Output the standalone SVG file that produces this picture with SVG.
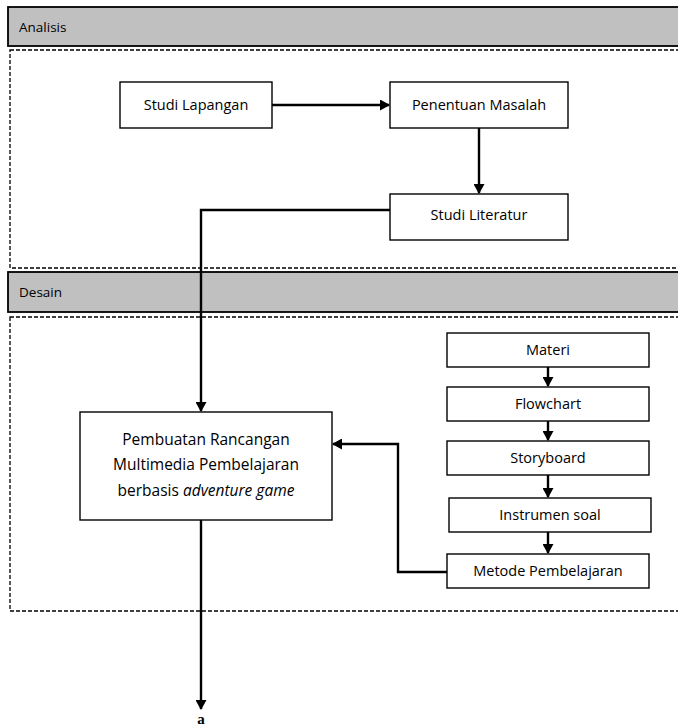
<svg xmlns="http://www.w3.org/2000/svg" width="678" height="728" viewBox="0 0 678 728">
<defs>
<style>
.hdr{fill:#c0c0c0;stroke:#000;stroke-width:1.8}
.dash{fill:none;stroke:#000;stroke-width:1.3;stroke-dasharray:4,2}
.box{fill:#fff;stroke:#000;stroke-width:1.4}
.t{font-family:"Open Sans","Liberation Sans",sans-serif;font-size:14.5px;fill:#000}
.h{font-size:13.5px}
.big{font-size:15.5px}
.c{text-anchor:middle}
.ln{fill:none;stroke:#000;stroke-width:2.4}
</style>
<marker id="ah" markerWidth="11" markerHeight="11" refX="9" refY="5.5" orient="auto" markerUnits="userSpaceOnUse">
<path d="M0,0 L10,5.5 L0,11 Z" fill="#000"/>
</marker>
</defs>
<rect width="678" height="728" fill="#fff"/>
<g id="lane-analisis">
<rect class="hdr" x="8" y="7" width="680" height="39"/>
<text class="t h" x="19" y="32">Analisis</text>
<rect class="dash" x="10" y="50" width="680" height="218"/>
</g>
<g id="lane-desain">
<rect class="hdr" x="8" y="272" width="680" height="40"/>
<text class="t h" x="19" y="297">Desain</text>
<rect class="dash" x="10" y="317" width="680" height="294"/>
</g>
<g id="connectors">
<path class="ln" d="M272,105 H389" marker-end="url(#ah)"/>
<path class="ln" d="M479,128 V193" marker-end="url(#ah)"/>
<path class="ln" d="M390,210 H201 V411" marker-end="url(#ah)"/>
<path class="ln" d="M548,367 V386" marker-end="url(#ah)"/>
<path class="ln" d="M548,421 V440" marker-end="url(#ah)"/>
<path class="ln" d="M548,475 V497" marker-end="url(#ah)"/>
<path class="ln" d="M548,532 V553" marker-end="url(#ah)"/>
<path class="ln" d="M447,572 H398 V444 H333" marker-end="url(#ah)"/>
<path class="ln" d="M201,520 V709" marker-end="url(#ah)"/>
</g>
<g id="studi-lapangan"><rect class="box" x="120" y="82" width="152" height="46"/><text class="t c" x="196" y="110">Studi Lapangan</text></g>
<g id="penentuan-masalah"><rect class="box" x="390" y="82" width="178" height="46"/><text class="t c" x="479" y="110">Penentuan Masalah</text></g>
<g id="studi-literatur"><rect class="box" x="390" y="194" width="178" height="46"/><text class="t c" x="479" y="220">Studi Literatur</text></g>
<g id="materi"><rect class="box" x="447" y="333" width="202" height="34"/><text class="t c" x="548" y="355">Materi</text></g>
<g id="flowchart"><rect class="box" x="447" y="387" width="202" height="34"/><text class="t c" x="548" y="409">Flowchart</text></g>
<g id="storyboard"><rect class="box" x="447" y="441" width="202" height="34"/><text class="t c" x="548" y="463">Storyboard</text></g>
<g id="instrumen-soal"><rect class="box" x="449" y="498" width="202" height="34"/><text class="t c" x="550" y="520">Instrumen soal</text></g>
<g id="metode-pembelajaran"><rect class="box" x="447" y="554" width="202" height="34"/><text class="t c" x="548" y="576">Metode Pembelajaran</text></g>
<g id="pembuatan"><rect class="box" x="80" y="412" width="252" height="108"/>
<text class="t big c" x="206" y="445">Pembuatan Rancangan</text>
<text class="t big c" x="206" y="470">Multimedia Pembelajaran</text>
<text class="t big c" x="206" y="496">berbasis <tspan font-style="italic">adventure game</tspan></text></g>
<g id="label-a"><text x="201" y="724" font-family="Liberation Serif,serif" font-weight="bold" font-size="15" text-anchor="middle">a</text></g>
</svg>
